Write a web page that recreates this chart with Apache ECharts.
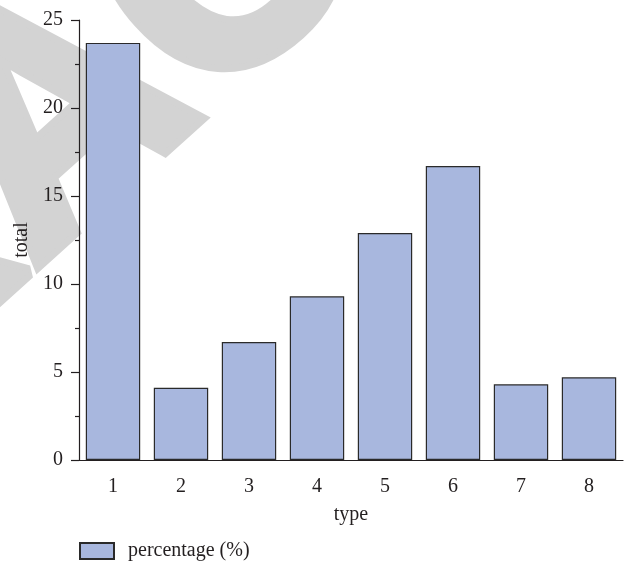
<!DOCTYPE html>
<html>
<head>
<meta charset="utf-8">
<script src="https://cdn.jsdelivr.net/npm/echarts@6/dist/echarts.min.js"></script>
<style>
html, body { margin: 0; padding: 0; background: #fff; }
#main { width: 628px; height: 562px; }
</style>
</head>
<body>
<div id="main"></div>
<script>
// data
var types = ['1', '2', '3', '4', '5', '6', '7', '8'];
var percentage = [23.7, 4.1, 6.7, 9.3, 12.9, 16.7, 4.3, 4.7];
var seriesName = 'percentage (%)';

var txt = '#231f20';
var serif = '"Liberation Serif", "DejaVu Serif", serif';

var option = {
    animation: false,
    backgroundColor: '#fff',
    graphic: [{
        // grey watermark behind the plot
        type: 'text',
        x: 60,
        y: 125,
        rotation: 42 * Math.PI / 180,
        z: -10,
        silent: true,
        style: {
            text: 'RETRACTED',
            font: 'bold 320px "Liberation Sans", Arial, sans-serif',
            fill: '#d3d3d3',
            stroke: '#d3d3d3',
            lineWidth: 14,
            textAlign: 'center',
            textVerticalAlign: 'middle'
        }
    }],
    grid: { left: 79, right: 5, top: 20, bottom: 102 },
    legend: {
        left: 74,
        top: 536,
        icon: 'rect',
        itemWidth: 34,
        itemHeight: 16,
        itemGap: 10,
        textStyle: { fontFamily: serif, fontSize: 20, color: txt, padding: [0, 0, 0, 9] },
        data: [seriesName]
    },
    xAxis: [{
        type: 'category',
        data: types,
        name: 'type',
        nameLocation: 'middle',
        nameGap: 45,
        nameTextStyle: { fontFamily: serif, fontSize: 20, color: txt },
        axisLine: { lineStyle: { color: txt, width: 1.2 } },
        axisTick: { alignWithLabel: true, length: 8, lineStyle: { color: txt, width: 1.2 } },
        axisLabel: { fontFamily: serif, fontSize: 20, color: txt, margin: 17 },
        splitLine: { show: false }
    }, {
        // short ticks on the category boundaries
        type: 'category',
        data: types,
        position: 'bottom',
        axisLine: { show: false },
        axisTick: { length: 4, lineStyle: { color: txt, width: 1.2 } },
        axisLabel: { show: false },
        splitLine: { show: false }
    }],
    yAxis: {
        type: 'value',
        min: 0,
        max: 25,
        interval: 5,
        name: 'total',
        nameLocation: 'middle',
        nameGap: 45,
        nameTextStyle: { fontFamily: serif, fontSize: 20, color: txt },
        axisLine: { show: true, lineStyle: { color: txt, width: 1.2 } },
        axisTick: { show: true, length: 8, lineStyle: { color: txt, width: 1.2 } },
        minorTick: { show: true, splitNumber: 2, length: 4, lineStyle: { color: txt, width: 1.2 } },
        axisLabel: { fontFamily: serif, fontSize: 20, color: txt, margin: 16 },
        splitLine: { show: false }
    },
    series: [{
        name: seriesName,
        type: 'bar',
        xAxisIndex: 0,
        data: percentage,
        barCategoryGap: '20%',
        itemStyle: { color: '#a8b7de', borderColor: '#2a2a2a', borderWidth: 1.2 }
    }]
};

echarts.init(document.getElementById('main')).setOption(option);
</script>
</body>
</html>
